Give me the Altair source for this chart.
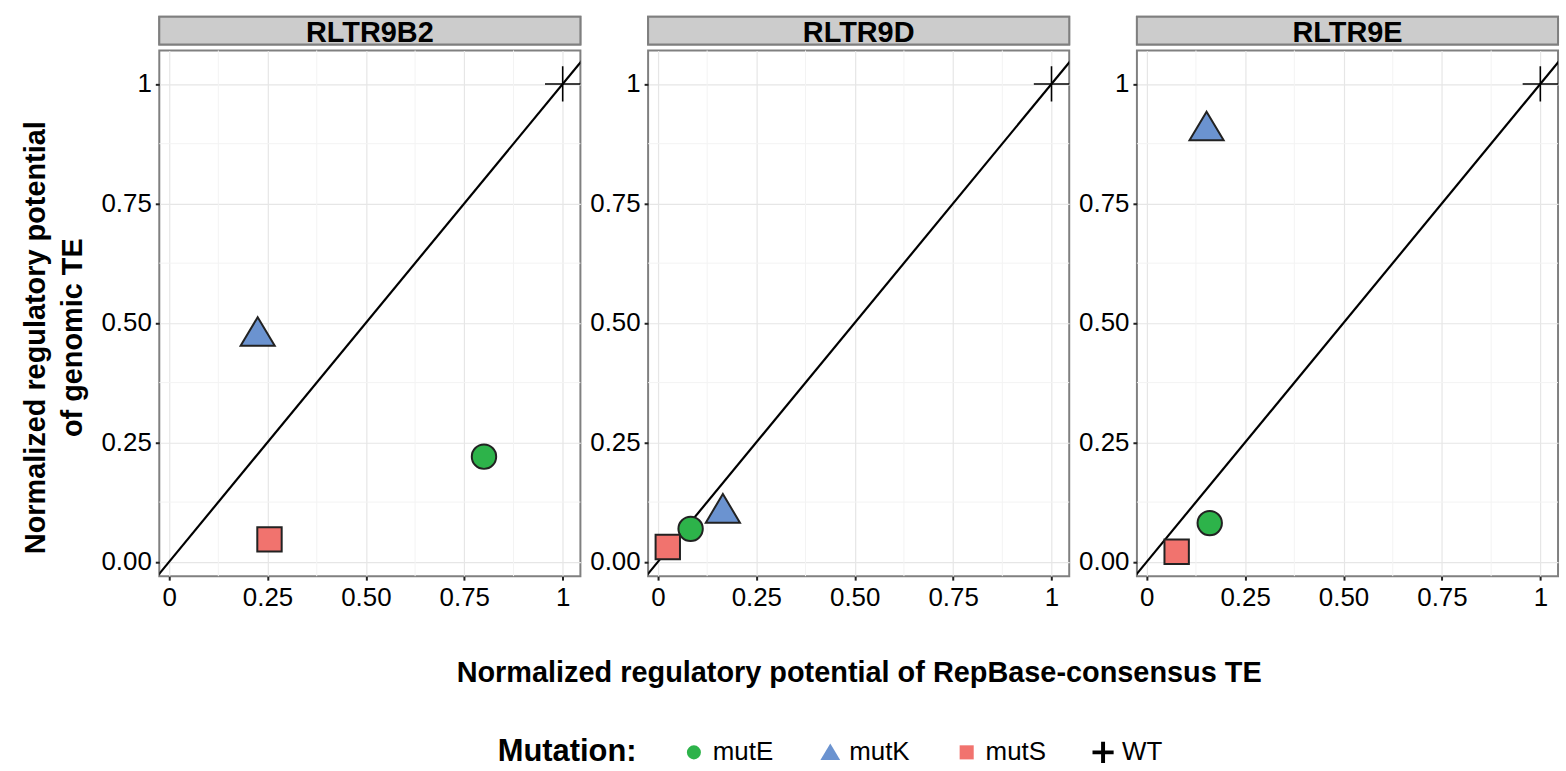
import altair as alt
import pandas as pd

panels = ["RLTR9B2", "RLTR9D", "RLTR9E"]
mutations = ["mutE", "mutK", "mutS", "WT"]
consensus = {
    "RLTR9B2": [0.80, 0.225, 0.255, 1.0],
    "RLTR9D": [0.083, 0.165, 0.025, 1.0],
    "RLTR9E": [0.16, 0.152, 0.076, 1.0],
}
genomic = {
    "RLTR9B2": [0.22, 0.48, 0.047, 1.0],
    "RLTR9D": [0.069, 0.11, 0.031, 1.0],
    "RLTR9E": [0.081, 0.91, 0.021, 1.0],
}
major_ticks = [0, 0.25, 0.5, 0.75, 1]
minor_ticks = [0.125, 0.375, 0.625, 0.875]
diagonal = [-0.2, 1.2]

colors = ["#2db34a", "#6b93d0", "#f1736e", "#000000"]
thin_cross = "M-1.45,0L1.45,0M0,-1.45L0,1.45"
plus = ("M-1.5,-0.28L-0.28,-0.28L-0.28,-1.5L0.28,-1.5L0.28,-0.28L1.5,-0.28L1.5,0.28"
        "L0.28,0.28L0.28,1.5L-0.28,1.5L-0.28,0.28L-1.5,0.28Z")
triangle = "M0,-1.25L1.4,1.1L-1.4,1.1Z"
shapes = ["circle", triangle, "square", plus]

FONT = "Liberation Sans"
W, H, SH = 423, 528, 28
GAP = 68

xs = alt.Scale(domain=[-0.025, 1.045], nice=False, zero=False)
ys = alt.Scale(domain=[-0.03, 1.07], nice=False, zero=False)

XT = "Normalized regulatory potential of RepBase-consensus TE"
YT = ["Normalized regulatory potential", "of genomic TE"]

legend = alt.Legend(title="Mutation:")


def plot_panel(i, name):
    pts = pd.DataFrame({"x": consensus[name], "y": genomic[name], "mutation": mutations})
    xaxis = alt.Axis(values=major_ticks, grid=True,
                     labelExpr="datum.value == 0 ? '0' : datum.value == 1 ? '1' : format(datum.value, '.2f')",
                     title=XT if i == 1 else None, titlePadding=49, titleFontSize=29,
                     titleFontWeight="bold", titleFont=FONT, titleColor="black")
    yaxis = alt.Axis(values=major_ticks, grid=True,
                     labelExpr="datum.value == 1 ? '1' : format(datum.value, '.2f')",
                     title=YT if i == 0 else None, titlePadding=14, titleFontSize=29,
                     titleFontWeight="bold", titleFont=FONT, titleColor="black",
                     titleLineHeight=37, titleY=H / 2 + 24)
    minor = alt.Chart(pd.DataFrame({"v": minor_ticks})).mark_rule(
        color="#f3f3f3", strokeWidth=1
    ).encode(x=alt.X("v:Q", scale=xs, axis=xaxis))
    minor_y = alt.Chart(pd.DataFrame({"v": minor_ticks})).mark_rule(
        color="#f3f3f3", strokeWidth=1
    ).encode(y=alt.Y("v:Q", scale=ys, axis=yaxis))
    diag = alt.Chart(pd.DataFrame({"d": diagonal})).mark_line(
        color="black", strokeWidth=2.2, clip=True
    ).encode(x=alt.X("d:Q", scale=xs, axis=xaxis), y=alt.Y("d:Q", scale=ys, axis=yaxis))
    base = alt.Chart(pts)
    points = base.transform_filter("datum.mutation != 'WT'").mark_point(
        size=600, stroke="#222222", strokeWidth=2, opacity=1, fillOpacity=1
    ).encode(
        x=alt.X("x:Q", scale=xs, axis=xaxis),
        y=alt.Y("y:Q", scale=ys, axis=yaxis),
        fill=alt.Fill("mutation:N", scale=alt.Scale(domain=mutations, range=colors), legend=legend),
        shape=alt.Shape("mutation:N", scale=alt.Scale(domain=mutations, range=shapes), legend=legend),
    )
    wt = base.transform_filter("datum.mutation == 'WT'").mark_point(
        shape=thin_cross, size=600, stroke="black", strokeWidth=1.6, opacity=1
    ).encode(
        x=alt.X("x:Q", scale=xs, axis=xaxis),
        y=alt.Y("y:Q", scale=ys, axis=yaxis),
    )
    return alt.layer(minor, minor_y, diag, points, wt).properties(width=W, height=H)


def strip_panel(name):
    sdf = pd.DataFrame({"panel": [name]})
    strip_rect = alt.Chart(sdf).mark_rect(fill="#cccccc", stroke="#7f7f7f", strokeWidth=2).encode(
        x=alt.value(0), x2=alt.value(W), y=alt.value(0), y2=alt.value(SH)
    )
    strip_text = alt.Chart(sdf).mark_text(
        font=FONT, fontSize=29, fontWeight="bold", color="black", baseline="middle"
    ).encode(text="panel:N", x=alt.value(W / 2), y=alt.value(SH / 2 + 2))
    return alt.layer(strip_rect, strip_text).properties(width=W, height=SH)


strips = alt.hconcat(*[strip_panel(p) for p in panels], spacing=GAP, bounds="flush")
plots = alt.hconcat(*[plot_panel(i, p) for i, p in enumerate(panels)], spacing=GAP, bounds="flush")

chart = alt.vconcat(strips, plots, spacing=0).properties(
    padding={"left": 20, "top": 13, "right": 3, "bottom": 0}
).configure_axis(
    labelFont=FONT, labelFontSize=26, labelColor="black", tickColor="#222222",
    tickSize=4, tickWidth=2, domain=False, gridColor="#e6e6e6", gridWidth=1.2,
    labelPadding=4,
).configure_view(
    stroke="#808080", strokeWidth=2
).configure_legend(
    orient="none", legendX=340, legendY=726, direction="horizontal",
    titleOrient="left", titleFont=FONT, titleFontSize=31, titleFontWeight="bold",
    titleColor="black", labelFont=FONT, labelFontSize=26, labelColor="black",
    symbolSize=200, columnPadding=44, titlePadding=44, labelOffset=6,
    symbolStrokeWidth=0,
)

chart.save("out.html", embed_options={"renderer": "svg", "actions": False})
